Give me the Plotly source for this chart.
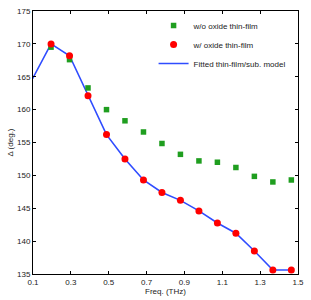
import plotly.graph_objects as go

freq = [0.0977, 0.1953, 0.2930, 0.3906, 0.4883, 0.5859, 0.6836, 0.7813,
        0.8789, 0.9766, 1.0742, 1.1719, 1.2695, 1.3672, 1.4648]
wo_oxide = [169.5, 167.6, 163.3, 160.0, 158.3, 156.6, 154.85,
            153.2, 152.2, 152.0, 151.2, 149.85, 149.0, 149.3]
w_oxide = [170.0, 168.2, 162.1, 156.2, 152.5, 149.3, 147.4,
           146.2, 144.6, 142.75, 141.2, 138.5, 135.6, 135.6]
fitted = [164.7, 170.0, 168.2, 162.1, 156.2, 152.5, 149.3, 147.4,
          146.2, 144.6, 142.75, 141.2, 138.5, 135.6, 135.6]

x_ticks = [0.1, 0.3, 0.5, 0.7, 0.9, 1.1, 1.3, 1.5]
y_ticks = [135, 140, 145, 150, 155, 160, 165, 170, 175]

font = dict(family="Liberation Sans, Arial, sans-serif", size=8, color="#222222")

fig = go.Figure()
fig.add_trace(go.Scatter(x=freq, y=fitted, mode="lines",
                         name="Fitted thin-film/sub. model", legendrank=3,
                         line=dict(color="#2f4cff", width=1.6)))
fig.add_trace(go.Scatter(x=freq[1:], y=wo_oxide, mode="markers",
                         name="w/o oxide thin-film", legendrank=1,
                         marker=dict(symbol="square", size=5.5, color="#1f9e1f")))
fig.add_trace(go.Scatter(x=freq[1:], y=w_oxide, mode="markers",
                         name="w/ oxide thin-film", legendrank=2,
                         marker=dict(symbol="circle", size=7, color="#ff0000")))

axis_common = dict(showline=True, linecolor="black", linewidth=1, mirror="ticks",
                   ticks="inside", ticklen=3, tickcolor="black", showgrid=False,
                   zeroline=False, tickfont=font)
fig.update_layout(
    width=311, height=300,
    margin=dict(l=33, r=9, t=7, b=23),
    paper_bgcolor="white", plot_bgcolor="white",
    font=font,
    showlegend=True,
    legend=dict(x=0.455, y=1.0, xanchor="left", yanchor="top",
                bgcolor="rgba(0,0,0,0)", font=dict(size=8, family=font["family"], color="#222222"),
                itemwidth=30, tracegroupgap=0, traceorder="normal"),
    xaxis=dict(range=[0.1, 1.5], tickvals=x_ticks, ticktext=[str(v) for v in x_ticks],
               title=dict(text="Freq. (THz)", font=font, standoff=1), **axis_common),
    yaxis=dict(range=[135, 175], tickvals=y_ticks,
               title=dict(text="Δ (deg.)", font=font, standoff=2), **axis_common),
)
fig.write_html("out.html", config={"displayModeBar": False},
               post_script="document.body.style.margin='0';document.body.style.overflow='hidden';")
